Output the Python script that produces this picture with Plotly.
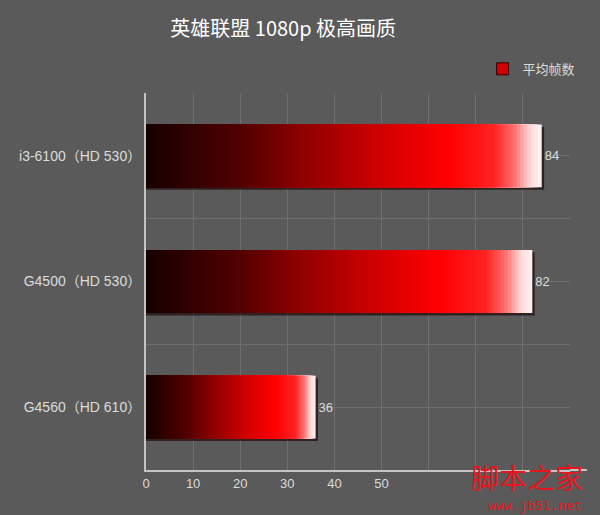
import plotly.graph_objects as go

# ---- data ----
categories = ["i3-6100（HD 530）", "G4500（HD 530）", "G4560（HD 610）"]
fps_values = [84, 82, 36]
series_name = "平均帧数"
title_text = "英雄联盟 1080p 极高画质"
x_tick_values = [0, 10, 20, 30, 40, 50, 60, 70, 80, 90]
x_tick_labels = ["0", "10", "20", "30", "40", "50", "", "", "", ""]

# ---- styling ----
BG = "#5a5a5a"
GRID = "#6f6f6f"
AXIS = "#c4c4c4"
TXT = "#dcdcdc"
FONT = "Liberation Sans, Noto Sans CJK SC, sans-serif"

stops = [
    (0.00, (22, 0, 0)),
    (0.25, (85, 0, 0)),
    (0.40, (145, 0, 0)),
    (0.60, (210, 0, 0)),
    (0.76, (255, 0, 0)),
    (0.88, (255, 35, 35)),
    (0.93, (255, 110, 110)),
    (0.97, (255, 215, 215)),
    (1.00, (255, 246, 246)),
]


def grad(f):
    for (a, ca), (b, cb) in zip(stops[:-1], stops[1:]):
        if a <= f <= b:
            t = (f - a) / (b - a) if b > a else 0
            c = [round(ca[i] + (cb[i] - ca[i]) * t) for i in range(3)]
            return "rgb(%d,%d,%d)" % tuple(c)
    return "rgb(%d,%d,%d)" % stops[-1][1]


ypos = list(range(len(categories)))
fig = go.Figure()

# drop shadow
fig.add_trace(go.Bar(
    y=ypos, x=[v + 0.5 for v in fps_values], orientation="h",
    width=0.5, offset=-0.23, marker=dict(color="rgba(35,15,15,0.75)", line_width=0),
    hoverinfo="skip", showlegend=False,
))

N = 110
for k in range(N, 0, -1):
    f = k / N
    fig.add_trace(go.Bar(
        y=ypos, x=[v * f for v in fps_values], orientation="h",
        width=0.5,
        marker=dict(color=grad(f - 0.5 / N), line_width=0),
        text=[str(v) for v in fps_values] if k == N else None,
        textposition="outside" if k == N else None,
        textfont=dict(color=TXT, size=13, family=FONT),
        cliponaxis=False,
        hoverinfo="skip" if k != N else None,
        showlegend=False,
    ))

# legend entry
fig.add_trace(go.Scatter(
    x=[None], y=[None], mode="markers", name=series_name,
    marker=dict(symbol="square", size=12, color="#d00000",
                line=dict(color="#300000", width=1)),
))

fig.update_layout(
    width=600, height=515,
    paper_bgcolor=BG, plot_bgcolor=BG,
    margin=dict(l=146, r=30, t=93, b=45),
    barmode="overlay", bargap=0.5,
    font=dict(family=FONT, color=TXT, size=13),
    title=dict(text=title_text, x=0.472, xanchor="center", y=0.943, yanchor="middle",
               font=dict(family="Noto Sans CJK SC", size=20, color="#ffffff")),
    showlegend=True,
    legend=dict(x=1.025, xanchor="right", y=1.064, yanchor="middle",
                bgcolor="rgba(0,0,0,0)", font=dict(size=13, color=TXT, family="Noto Sans CJK SC"),
                itemwidth=30),
    xaxis=dict(range=[0, 90], tickvals=x_tick_values, ticktext=x_tick_labels,
               showgrid=True, gridcolor=GRID, gridwidth=1, zeroline=False,
               showline=True, linecolor=AXIS, linewidth=2, ticks="",
               tickfont=dict(size=13, color=TXT)),
    yaxis=dict(range=[2.5, -0.5], tickvals=ypos, ticktext=categories,
               showgrid=True, gridcolor=GRID, gridwidth=1, zeroline=False,
               minor=dict(tick0=0.5, dtick=1, showgrid=True, gridcolor=GRID, gridwidth=1),
               showline=True, linecolor=AXIS, linewidth=2, ticks="",
               ticklabelstandoff=0, tickfont=dict(size=14, color=TXT)),
    shapes=[dict(type="line", xref="paper", yref="paper", x0=1.0, x1=1.04, y0=0, y1=0,
                 line=dict(color=AXIS, width=2))],
    annotations=[
        dict(text="脚本之家", xref="paper", yref="paper", x=1.035, y=-0.018, xanchor="right",
             yanchor="middle", showarrow=False,
             font=dict(family="Noto Sans CJK SC", size=28, color="#e8141c")),
        dict(text="www.jb51.net", xref="paper", yref="paper", x=1.033, y=-0.094,
             xanchor="right", yanchor="middle", showarrow=False,
             font=dict(family="DejaVu Sans Mono", size=13, color="#e8141c")),
    ],
)

fig.write_html("out.html", config={"displayModeBar": False},
               post_script="document.body.style.margin='0';document.body.style.padding='0';"
                           "document.documentElement.style.overflow='hidden';")
